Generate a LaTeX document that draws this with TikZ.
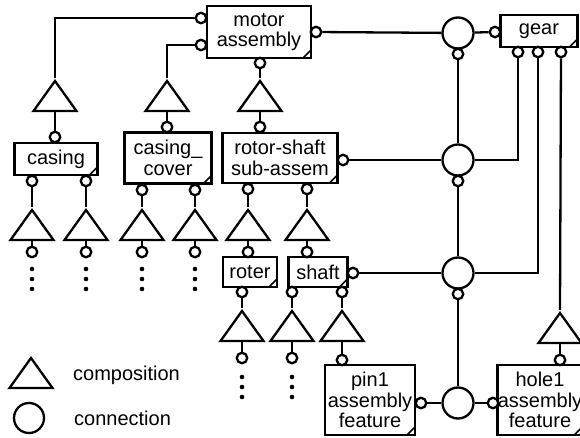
\documentclass[tikz,border=0pt]{standalone}
\usepackage{fontspec}
\setmainfont{Liberation Sans}
\usetikzlibrary{shapes.geometric}
\newcommand{\partfont}{\fontsize{20}{20.5}\selectfont}

\begin{document}
\begin{tikzpicture}[x=1pt, y=-1pt, line width=2.3pt,
  part/.style={draw, line width=2.6pt, rectangle, inner sep=0pt, align=center, font=\partfont,
    path picture={\draw[line width=1.6pt] ([xshift=-8pt]path picture bounding box.south east)
      -- ([yshift=8pt]path picture bounding box.south east);}},
  port/.style={circle, draw, fill=white, inner sep=0pt, minimum size=10.5pt},
  joint/.style={circle, draw, inner sep=0pt, minimum size=31pt},
  comp/.style={isosceles triangle, isosceles triangle stretches, shape border rotate=90,
    draw, inner sep=0pt, minimum width=43pt, minimum height=30pt, anchor=apex}]
  \useasboundingbox (0,0) rectangle (580,438);

  % Parts
  \node[part, minimum width=104pt, minimum height=52pt] (motor) at (259,32) {motor\\assembly};
  \node[part, minimum width=83pt, minimum height=32pt] (casing) at (56,159) {casing};
  \node[part, minimum width=87pt, minimum height=51pt] (cover) at (168,158) {casing\_\\cover};
  \node[part, minimum width=115pt, minimum height=50pt] (rotsh) at (280,158) {rotor-shaft\\sub-assem};
  \node[part, minimum width=54pt, minimum height=30pt] (roter) at (250,272) {roter};
  \node[part, minimum width=59pt, minimum height=30pt] (shaft) at (318,272) {shaft};
  \node[part, minimum width=77pt, minimum height=32pt] (gear) at (539,31) {gear};
  \node[part, minimum width=90pt, minimum height=70pt] (pin) at (370,400) {pin1\\assembly\\feature};
  \node[part, minimum width=84pt, minimum height=70pt] (hole) at (540,400) {hole1\\assembly\\feature};

  % Compositions
  \node[comp] (tca) at (55,78) {};
  \node[comp] (tco) at (167,78) {};
  \node[comp] (trs) at (260,78) {};
  \node[comp] (tca1) at (32,207) {};
  \node[comp] (tca2) at (86,207) {};
  \node[comp] (tco1) at (142,207) {};
  \node[comp] (tco2) at (195,207) {};
  \node[comp] (trs1) at (248,207) {};
  \node[comp] (trs2) at (307,207) {};
  \node[comp] (tro) at (242,308) {};
  \node[comp] (tsh1) at (292,308) {};
  \node[comp] (tsh2) at (342,308) {};
  \node[comp] (thole) at (560,310) {};

  % Connections
  \node[joint] (j1) at (458,33) {};
  \node[joint] (j2) at (458,160) {};
  \node[joint] (j3) at (458,273) {};
  \node[joint] (j4) at (458,403) {};

  % Ports
  \node[port] (pm1) at (201,18) {};
  \node[port] (pm2) at (201,45) {};
  \node[port] (pm3) at (260,63) {};
  \node[port] (pm4) at (316,32) {};
  \node[port] (pca) at (55,137) {};
  \node[port] (pca1) at (32,181) {};
  \node[port] (pca2) at (86,181) {};
  \node[port] (pco) at (167,127) {};
  \node[port] (pco1) at (142,190) {};
  \node[port] (pco2) at (195,190) {};
  \node[port] (prs) at (260,127) {};
  \node[port] (prs1) at (248,189) {};
  \node[port] (prs2) at (307,189) {};
  \node[port] (prs3) at (343,160) {};
  \node[port] (pro) at (248,252) {};
  \node[port] (pro1) at (242,292) {};
  \node[port] (psh) at (307,252) {};
  \node[port] (psh1) at (292,292) {};
  \node[port] (psh2) at (342,292) {};
  \node[port] (psh3) at (353,273) {};
  \node[port] (ppin) at (342,360) {};
  \node[port] (ppin1) at (421,403) {};
  \node[port] (phole) at (560,360) {};
  \node[port] (phole1) at (493,403) {};
  \node[port] (pg0) at (495,32) {};
  \node[port] (pg1) at (518,52) {};
  \node[port] (pg2) at (538,52) {};
  \node[port] (pg3) at (561,52) {};
  \node[port] (pj1) at (458,54) {};
  \node[port] (pj2) at (458,181) {};
  \node[port] (pj3) at (458,294) {};
  \node[port] (qca1) at (32,252) {};
  \node[port] (qca2) at (86,252) {};
  \node[port] (qco1) at (142,252) {};
  \node[port] (qco2) at (195,252) {};
  \node[port] (qro) at (242,358) {};
  \node[port] (qsh) at (292,358) {};

  % Motor assembly links
  \draw (pm1) -| (tca.apex);
  \draw (pm2) -| (tco.apex);
  \draw (pm3) -- (trs.apex);
  \draw (tca.lower side) -- (pca);
  \draw (tco.lower side) -- (pco);
  \draw (trs.lower side) -- (prs);

  % Lower compositions
  \foreach \p/\t/\q in {pca1/tca1/qca1, pca2/tca2/qca2, pco1/tco1/qco1, pco2/tco2/qco2,
      prs1/trs1/pro, prs2/trs2/psh, pro1/tro/qro, psh1/tsh1/qsh, psh2/tsh2/ppin}
    \draw (\p) -- (\t.apex) (\t.lower side) -- (\q);

  % Dots
  \foreach \x/\y in {32/269, 86/269, 142/269, 195/269, 242/377, 292/377}
    \foreach \d in {0,10,20}
      \fill (\x,\y+\d) circle (2.3pt);

  % Connection links
  \draw (pm4) -- (j1);
  \draw (j1) -- (pg0);
  \draw (pj1) -- (j2);
  \draw (pj2) -- (j3);
  \draw (pj3) -- (j4);
  \draw (prs3) -- (j2);
  \draw (j2) -| (pg1);
  \draw (psh3) -- (j3);
  \draw (j3) -| (pg2);
  \draw (pg3) -- (thole.apex);
  \draw (thole.lower side) -- (phole);
  \draw (ppin1) -- (j4);
  \draw (j4) -- (phole1);

  % Legend
  \node[comp] (tleg) at (31,355) {};
  \node[joint, minimum size=30pt] (jleg) at (29,418) {};
  \node[anchor=west, font=\partfont, inner sep=0pt] (lcomp) at (72,375) {composition};
  \node[anchor=west, font=\partfont, inner sep=0pt] (lconn) at (73,418) {connection};
\end{tikzpicture}
\end{document}
